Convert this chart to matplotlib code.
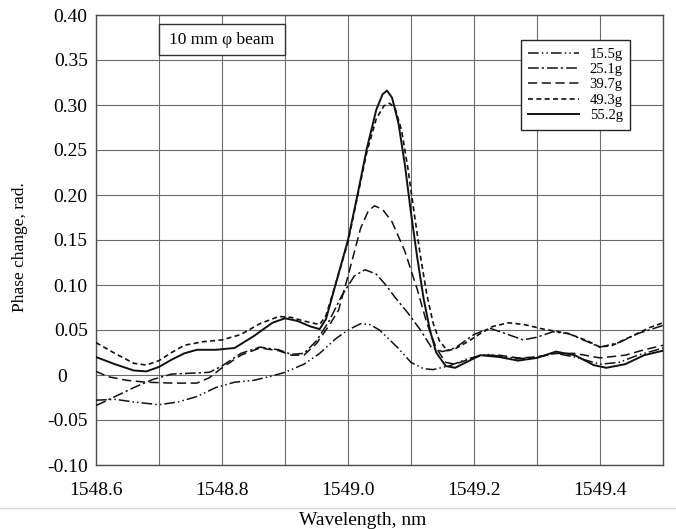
import numpy as np
import matplotlib
matplotlib.use("Agg")
import matplotlib.pyplot as plt
from matplotlib.patches import Rectangle
from matplotlib.lines import Line2D

# Dados (comprimento de onda em nm, fase em rad)
x_552 = [1548.60, 1548.63, 1548.66, 1548.68, 1548.70, 1548.72, 1548.74, 1548.76, 1548.79, 1548.82,
         1548.85, 1548.88, 1548.90, 1548.92, 1548.94, 1548.955, 1548.965, 1548.98, 1549.00, 1549.015,
         1549.03, 1549.045, 1549.055, 1549.062, 1549.07, 1549.08, 1549.09, 1549.10, 1549.11, 1549.12,
         1549.13, 1549.14, 1549.155, 1549.17, 1549.19, 1549.21, 1549.24, 1549.27, 1549.30, 1549.33,
         1549.36, 1549.39, 1549.41, 1549.44, 1549.47, 1549.50]
y_552 = [0.020, 0.012, 0.005, 0.004, 0.009, 0.017, 0.024, 0.028, 0.028, 0.030,
         0.043, 0.058, 0.063, 0.060, 0.054, 0.051, 0.062, 0.100, 0.150, 0.200,
         0.252, 0.295, 0.312, 0.316, 0.308, 0.280, 0.235, 0.180, 0.130, 0.085,
         0.050, 0.025, 0.010, 0.008, 0.015, 0.022, 0.020, 0.016, 0.019, 0.026,
         0.022, 0.011, 0.008, 0.012, 0.022, 0.027]

x_493 = [1548.60, 1548.63, 1548.66, 1548.68, 1548.70, 1548.72, 1548.74, 1548.77, 1548.80, 1548.83,
         1548.86, 1548.89, 1548.91, 1548.93, 1548.955, 1548.965, 1548.98, 1549.00, 1549.015, 1549.03,
         1549.045, 1549.057, 1549.066, 1549.075, 1549.085, 1549.095, 1549.105, 1549.115, 1549.125, 1549.135,
         1549.145, 1549.158, 1549.17, 1549.19, 1549.21, 1549.23, 1549.255, 1549.28, 1549.31, 1549.35,
         1549.38, 1549.40, 1549.42, 1549.45, 1549.48, 1549.50]
y_493 = [0.036, 0.024, 0.013, 0.011, 0.016, 0.025, 0.033, 0.037, 0.039, 0.045,
         0.057, 0.065, 0.064, 0.060, 0.056, 0.066, 0.100, 0.148, 0.198, 0.248,
         0.285, 0.299, 0.302, 0.296, 0.272, 0.230, 0.180, 0.132, 0.090, 0.058,
         0.038, 0.027, 0.029, 0.037, 0.046, 0.054, 0.058, 0.056, 0.051, 0.046,
         0.038, 0.031, 0.033, 0.043, 0.053, 0.058]

x_397 = [1548.60, 1548.62, 1548.65, 1548.68, 1548.72, 1548.76, 1548.78, 1548.80, 1548.83, 1548.86,
         1548.89, 1548.91, 1548.93, 1548.95, 1548.97, 1548.985, 1549.00, 1549.02, 1549.032, 1549.042,
         1549.055, 1549.07, 1549.09, 1549.11, 1549.125, 1549.14, 1549.155, 1549.17, 1549.19, 1549.21,
         1549.24, 1549.27, 1549.30, 1549.33, 1549.36, 1549.40, 1549.44, 1549.47, 1549.50]
y_397 = [0.004, -0.002, -0.006, -0.008, -0.009, -0.009, -0.003, 0.008, 0.022, 0.030,
         0.027, 0.022, 0.022, 0.035, 0.055, 0.072, 0.110, 0.163, 0.182, 0.188,
         0.184, 0.170, 0.138, 0.095, 0.058, 0.030, 0.014, 0.012, 0.017, 0.022,
         0.022, 0.019, 0.020, 0.024, 0.024, 0.019, 0.022, 0.028, 0.033]

x_251 = [1548.60, 1548.63, 1548.66, 1548.69, 1548.72, 1548.75, 1548.78, 1548.80, 1548.83, 1548.86,
         1548.89, 1548.91, 1548.93, 1548.95, 1548.97, 1548.99, 1549.01, 1549.027, 1549.045, 1549.06,
         1549.075, 1549.095, 1549.115, 1549.133, 1549.15, 1549.17, 1549.20, 1549.225, 1549.25, 1549.278,
         1549.30, 1549.325, 1549.35, 1549.38, 1549.40, 1549.43, 1549.46, 1549.50]
y_251 = [-0.034, -0.024, -0.014, -0.005, 0.001, 0.002, 0.003, 0.010, 0.024, 0.031,
         0.028, 0.023, 0.024, 0.038, 0.060, 0.088, 0.110, 0.117, 0.112, 0.100,
         0.086, 0.069, 0.050, 0.030, 0.026, 0.030, 0.045, 0.052, 0.046, 0.039,
         0.042, 0.048, 0.046, 0.037, 0.031, 0.036, 0.046, 0.055]

x_155 = [1548.60, 1548.63, 1548.66, 1548.70, 1548.73, 1548.76, 1548.79, 1548.82, 1548.85, 1548.88,
         1548.90, 1548.93, 1548.955, 1548.98, 1549.00, 1549.02, 1549.035, 1549.05, 1549.078, 1549.10,
         1549.12, 1549.135, 1549.16, 1549.19, 1549.22, 1549.25, 1549.27, 1549.30, 1549.33, 1549.36,
         1549.40, 1549.43, 1549.46, 1549.50]
y_155 = [-0.028, -0.027, -0.030, -0.033, -0.030, -0.024, -0.014, -0.008, -0.006, -0.001,
         0.003, 0.012, 0.024, 0.040, 0.050, 0.057, 0.056, 0.050, 0.031, 0.014,
         0.007, 0.006, 0.010, 0.018, 0.023, 0.020, 0.018, 0.020, 0.024, 0.020,
         0.012, 0.014, 0.022, 0.030]

series = [
    (x_155, y_155, "15.5g", (0, (7, 2, 1, 2, 1, 2)), 1.1),
    (x_251, y_251, "25.1g", (0, (7, 2, 1.5, 2)), 1.1),
    (x_397, y_397, "39.7g", (0, (6, 3)), 1.1),
    (x_493, y_493, "49.3g", (0, (3, 2)), 1.2),
    (x_552, y_552, "55.2g", "-", 1.4),
]

yticks = [-0.10, -0.05, 0, 0.05, 0.10, 0.15, 0.20, 0.25, 0.30, 0.35, 0.40]
ylabels = ["-0.10", "-0.05", "0    ", "0.05", "0.10", "0.15", "0.20", "0.25", "0.30", "0.35", "0.40"]
xticks = [1548.6, 1548.8, 1549.0, 1549.2, 1549.4]
xminor = [1548.7, 1548.9, 1549.1, 1549.3, 1549.5]

plt.rcParams['font.family'] = ['Liberation Serif', 'DejaVu Serif']

fig = plt.figure(figsize=(6.76, 5.29), dpi=100)
ax = fig.add_axes([96/676, 1 - 465/529, 567/676, 450/529])

for xs, ys, lab, ls, lw in series:
    ax.plot(xs, ys, color="#111111", linestyle=ls, linewidth=lw, label=lab, zorder=3)

ax.set_xlim(1548.6, 1549.5)
ax.set_ylim(-0.10, 0.40)
ax.set_xticks(xticks)
ax.set_xticklabels(["%.1f" % v for v in xticks])
ax.set_xticks(xminor, minor=True)
ax.set_yticks(yticks)
ax.set_yticklabels(ylabels)
ax.tick_params(axis="both", which="both", length=0, labelsize=14)
ax.tick_params(axis="x", pad=12.5)
ax.tick_params(axis="y", pad=6)
ax.grid(True, which="both", color="0.42", linewidth=0.8, zorder=1)
ax.set_axisbelow(True)
for sp in ax.spines.values():
    sp.set_color("0.3")
    sp.set_linewidth(1.0)

# caixa de texto no topo
ax.add_patch(Rectangle((1548.7, 0.3556), 0.2, 0.0344, facecolor="white",
                       edgecolor="0.2", linewidth=1.0, zorder=4))
ax.text(1548.8, 0.3725, "10 mm \u03c6 beam", ha="center", va="center", fontsize=12.5, zorder=5)

leg = ax.legend(loc="upper right", bbox_to_anchor=(0.942, 0.944), fontsize=10.5,
                frameon=True, fancybox=False, edgecolor="0.15", framealpha=1,
                handlelength=3.5, handletextpad=0.7, labelspacing=0.15, borderpad=0.5,
                borderaxespad=0)
leg.get_frame().set_linewidth(1.0)

fig.text(0.03, 0.532, "Phase change, rad.", rotation=90, ha="center", va="center", fontsize=12.5)
fig.text(0.537, 0.008, "Wavelength, nm", ha="center", va="baseline", fontsize=14)
fig.add_artist(Line2D([0, 1], [1 - 508/529, 1 - 508/529], color="0.85", linewidth=1.0))

fig.savefig("out.png", dpi=100)
